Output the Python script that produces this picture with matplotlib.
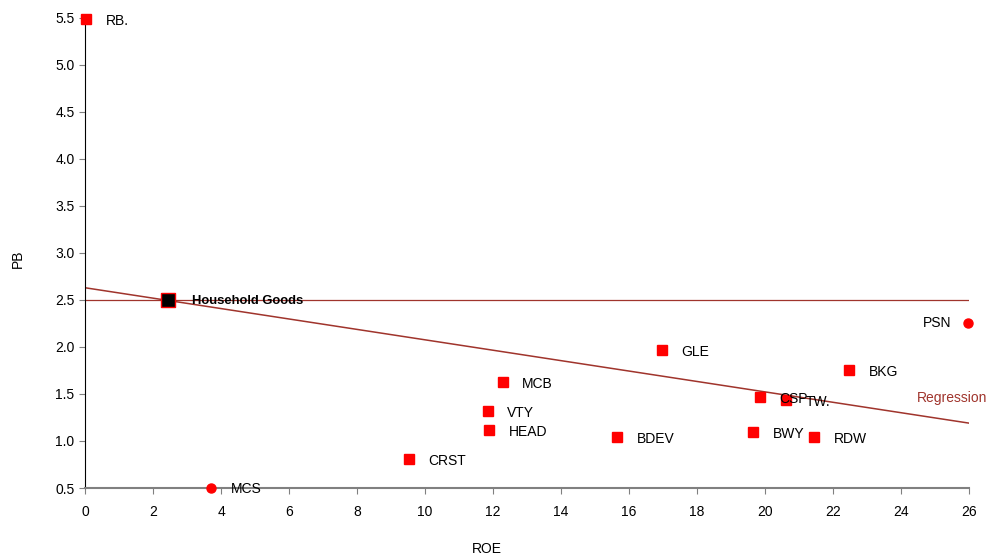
import matplotlib.pyplot as plt

plt.rcParams["font.family"] = ["Liberation Sans", "DejaVu Sans"]

# stocks drawn as squares
names = ["RB.", "CRST", "HEAD", "VTY", "MCB", "BDEV", "GLE",
         "CSP", "TW.", "BWY", "RDW", "BKG"]
roe = [0.03, 9.53, 11.88, 11.85, 12.29, 15.65, 16.97,
       19.85, 20.62, 19.65, 21.44, 22.47]
pb = [5.49, 0.81, 1.12, 1.32, 1.63, 1.04, 1.97,
      1.47, 1.44, 1.10, 1.04, 1.76]

# stocks drawn as circles
circle_names = ["MCS", "PSN"]
circle_roe = [3.71, 25.97]
circle_pb = [0.50, 2.25]

sector_name = "Household Goods"
sector_roe = 2.44
sector_pb = 2.50

regression_x = [0, 26]
regression_y = [2.63, 1.19]

line_color = "#a0342c"
axis_color = "#808080"

fig = plt.figure(figsize=(9.86, 5.59), dpi=100)
ax = fig.add_axes([0.0862, 0.127, 0.8966, 0.841])

ax.axhline(sector_pb, color=line_color, lw=0.9, zorder=1)
ax.plot(regression_x, regression_y, color=line_color, lw=1.1, zorder=1)

ax.plot(roe, pb, "s", color="red", markersize=6.5, clip_on=False, zorder=3)
ax.plot(circle_roe, circle_pb, "o", color="red", markersize=6.5,
        clip_on=False, zorder=3)
ax.plot(sector_roe, sector_pb, "s", markerfacecolor="black",
        markeredgecolor="red", markeredgewidth=1, markersize=10,
        clip_on=False, zorder=4)

for name, x, y in zip(names, roe, pb):
    ax.annotate(name, (x, y), xytext=(14, -1.5), textcoords="offset points",
                fontsize=10, va="center")

ax.annotate("MCS", (circle_roe[0], circle_pb[0]), xytext=(14, -1),
            textcoords="offset points", fontsize=10, va="center")
ax.annotate("PSN", (circle_roe[1], circle_pb[1]), xytext=(-12, 0),
            textcoords="offset points", fontsize=10, va="center", ha="right")
ax.annotate(sector_name, (sector_roe, sector_pb), xytext=(17, -1),
            textcoords="offset points", fontsize=9.4, va="center",
            fontweight="bold")
ax.annotate("Regression", (regression_x[1], regression_y[1]),
            xytext=(13, 18), textcoords="offset points", fontsize=10,
            va="center", ha="right", color=line_color, annotation_clip=False)

ax.set_xlim(0, 26)
ax.set_ylim(0.5, 5.5)
ax.set_xticks(range(0, 27, 2))
ax.set_yticks([0.5, 1.0, 1.5, 2.0, 2.5, 3.0, 3.5, 4.0, 4.5, 5.0, 5.5])
ax.set_yticklabels([f"{v:.1f}" for v in ax.get_yticks()])

for side in ["top", "right"]:
    ax.spines[side].set_visible(False)
ax.spines["left"].set_color("black")
ax.spines["bottom"].set_color(axis_color)
ax.spines["bottom"].set_linewidth(1.5)
ax.tick_params(axis="both", labelsize=10, length=4, color=axis_color)
ax.tick_params(axis="x", pad=8)

fig.text(0.018, 0.538, "PB", rotation=90, fontsize=10, va="center", ha="center")
fig.text(0.494, 0.018, "ROE", fontsize=10, va="center", ha="center")

plt.savefig("out.png", dpi=100)
plt.close()
